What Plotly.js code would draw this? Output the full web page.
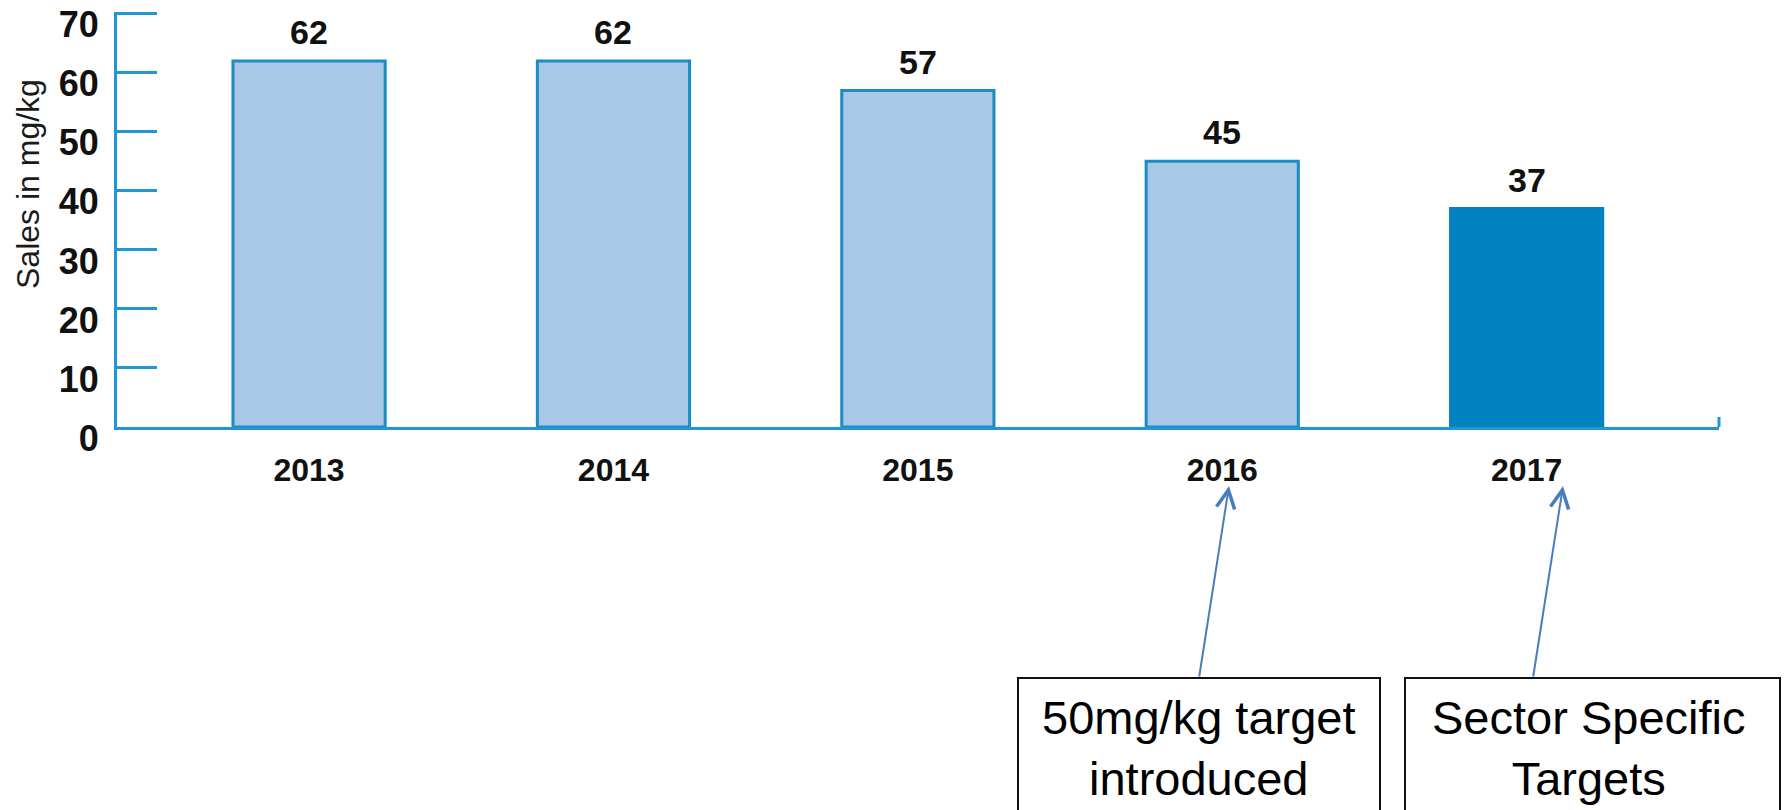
<!DOCTYPE html>
<html><head><meta charset="utf-8">
<script src="https://cdn.plot.ly/plotly-3.0.1.min.js"></script>
<style>html,body{margin:0;padding:0;background:#fff}#chart{width:1785px;height:810px}</style>
</head><body><div id="chart"></div>
<script>
// ---- data ----
const years = ['2013', '2014', '2015', '2016', '2017'];
const sales = [62, 62, 57, 45, 37];
const yTickVals = [0, 10, 20, 30, 40, 50, 60, 70];
const yTickText = ['0', '10', '20', '30', '40', '50', '60', '70'];
const yTitle = 'Sales in mg/kg';
const highlightYear = '2017';
const noteTexts = ['50mg/kg target<br>introduced', 'Sector Specific<br>Targets'];

// ---- styles ----
const LIGHT = '#a8c8e5', DARK = '#0083c0', EDGE = '#1a8cc6', AXIS = '#2097d3', ARROW = '#4a7ebb';
const FONT = 'Arial, "Liberation Sans", sans-serif';

const fillColors = years.map(y => y === highlightYear ? DARK : LIGHT);
const lineColors = years.map(y => y === highlightYear ? DARK : EDGE);

const trace = {
  type: 'bar', x: years, y: sales,
  width: 0.5,
  marker: { color: fillColors, line: { color: lineColors, width: 3 } },
  hoverinfo: 'skip', showlegend: false
};

// px -> paper helpers for annotation/shape furniture
const W = 1785, H = 810, L = 117, R = 66, T = 12, B = 383;
const pw = W - L - R, ph = H - T - B;
const px = v => (v - L) / pw;
const py = v => (H - B - v) / ph;

const annotations = [];
sales.forEach((v, i) => {
  annotations.push({
    x: i, y: v, xref: 'x', yref: 'y', text: String(v),
    showarrow: false, xanchor: 'center', yanchor: 'bottom', yshift: 8,
    font: { family: FONT, size: 34, weight: 700, color: '#111' }
  });
});
annotations.push({
  x: px(28), y: py(184), xref: 'paper', yref: 'paper', text: yTitle, textangle: -90,
  showarrow: false, xanchor: 'center', yanchor: 'middle',
  font: { family: FONT, size: 32, color: '#1a1a1a' }
});
// note texts
const noteCenters = [1199, 1588];
noteTexts.forEach((t, i) => {
  annotations.push({
    x: px(noteCenters[i]), y: py(748), xref: 'paper', yref: 'paper', text: t,
    showarrow: false, xanchor: 'center', yanchor: 'middle', align: 'center',
    font: { family: FONT, size: 47, color: '#000' }
  });
});
// arrows
const arrowTips = [[1229, 486], [1563, 486]];
const arrowTails = [[1199, 678], [1533, 678]];
arrowTips.forEach((tp, i) => {
  annotations.push({
    x: px(tp[0]), y: py(tp[1]), xref: 'paper', yref: 'paper', text: '',
    showarrow: true, arrowhead: 5, arrowsize: 1.8, arrowwidth: 2, arrowcolor: ARROW,
    ax: arrowTails[i][0] - tp[0], ay: arrowTails[i][1] - tp[1], standoff: 0
  });
});

const shapes = [
  { type: 'rect', xref: 'paper', yref: 'paper', x0: px(1018), x1: px(1380), y0: py(678), y1: py(830),
    line: { color: '#111', width: 2 }, fillcolor: 'rgba(0,0,0,0)' },
  { type: 'rect', xref: 'paper', yref: 'paper', x0: px(1405), x1: px(1780), y0: py(678), y1: py(830),
    line: { color: '#111', width: 2 }, fillcolor: 'rgba(0,0,0,0)' },
  { type: 'line', xref: 'paper', yref: 'paper', x0: 1, x1: 1, y0: 0, y1: 10 / ph,
    line: { color: AXIS, width: 3 } }
];

const layout = {
  width: W, height: H,
  margin: { l: L, r: R, t: T, b: B, pad: 0 },
  paper_bgcolor: '#fff', plot_bgcolor: '#fff',
  font: { family: FONT },
  xaxis: {
    type: 'category', range: [-0.631, 4.632], showgrid: false, zeroline: false,
    showline: true, linecolor: AXIS, linewidth: 3, ticks: '',
    tickfont: { family: FONT, size: 32, weight: 700, color: '#111' },
    ticklabelstandoff: 13, fixedrange: true
  },
  yaxis: {
    range: [0, 70.3], showgrid: false, zeroline: false,
    showline: true, linecolor: AXIS, linewidth: 3,
    ticks: 'inside', ticklen: 40, tickwidth: 3, tickcolor: AXIS,
    tickvals: yTickVals, ticktext: yTickText,
    tickfont: { family: FONT, size: 36, weight: 700, color: '#111' },
    ticklabelstandoff: 8, ticklabelshift: 11, fixedrange: true
  },
  annotations: annotations,
  shapes: shapes,
  showlegend: false
};

Plotly.newPlot('chart', [trace], layout, { displayModeBar: false, staticPlot: true });
</script>
</body></html>
